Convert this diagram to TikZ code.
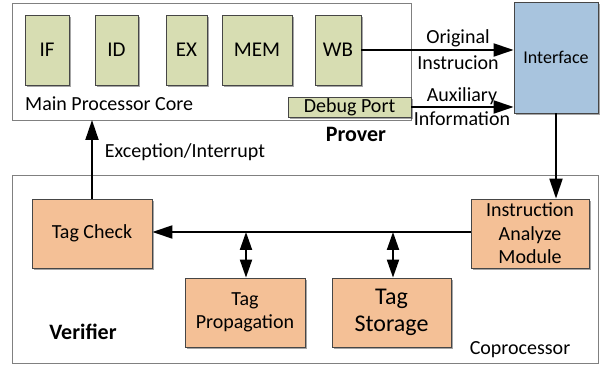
\documentclass[tikz,border=0pt]{standalone}
\usepackage{fontspec}
\setmainfont{Carlito}
\usetikzlibrary{arrows.meta,shadows}

\definecolor{stagegreen}{RGB}{215,221,178}
\definecolor{unitorange}{RGB}{244,192,150}
\definecolor{ifaceblue}{RGB}{168,196,222}
\definecolor{frame}{RGB}{128,128,128}
\definecolor{edge}{RGB}{70,70,70}

\newcommand{\fs}[2]{\fontsize{#1}{#2}\selectfont}

\tikzset{
  container/.style={draw=frame, line width=0.9pt, fill=white},
  blockbase/.style={draw=edge, line width=0.8pt, inner sep=0pt, align=center,
    drop shadow={shadow xshift=1.6pt, shadow yshift=-1.6pt, fill=black, opacity=0.35}},
  stagebox/.style={blockbase, fill=stagegreen, minimum height=70pt, font=\fs{21}{24}},
  unitbox/.style={blockbase, fill=unitorange, minimum width=120pt, minimum height=69pt, font=\fs{20}{23.5}},
  ifacebox/.style={blockbase, fill=ifaceblue, minimum width=84pt, minimum height=111pt, font=\fs{18}{21}},
  plain/.style={inner sep=0pt, font=\fs{20}{23}},
  title/.style={inner sep=0pt, font=\bfseries\fs{22}{25}},
  flow/.style={line width=2pt, -{Triangle[length=20pt,width=13pt]}},
  twoway/.style={line width=2pt, {Triangle[length=18pt,width=12pt]}-{Triangle[length=18pt,width=12pt]}},
}

\begin{document}
\begin{tikzpicture}[x=1pt, y=-1pt]
\useasboundingbox (0,0) rectangle (600,366);

% --- Prover: main processor core ---
\draw[container] (12,3) rectangle (411,120);
\coordinate (coreS) at (92,120);

\node[stagebox, minimum width=44pt] (if)  at (47,50)    {IF};
\node[stagebox, minimum width=43pt] (id)  at (116.5,50) {ID};
\node[stagebox, minimum width=41pt] (ex)  at (186.5,50) {EX};
\node[stagebox, minimum width=70pt] (mem) at (257,50)   {MEM};
\node[stagebox, minimum width=46pt] (wb)  at (338,50)   {WB};

\node[plain, anchor=west] (corelbl) at (25,104) {Main Processor Core};
\node[stagebox, minimum width=123pt, minimum height=20pt, font=\fs{20}{23}] (debug) at (349.5,107) {Debug Port};
\node[title] (prover) at (356,134) {Prover};

% --- Interface ---
\node[ifacebox] (iface) at (556,57.5) {Interface};

% --- Verifier: coprocessor ---
\draw[container] (12,175) rectangle (598,363);

\node[unitbox] (check) at (92,233.5)  {Tag Check};
\node[unitbox, minimum width=118pt] (iam) at (530,233.5) {Instruction\\Analyze\\Module};
\node[unitbox] (prop)  at (245,312.5) {Tag\\Propagation};
\node[unitbox, minimum width=119pt, font=\fs{24}{27}] (store) at (391.5,312.5) {Tag\\Storage};

\node[title] (verifier) at (83,332) {Verifier};
\node[plain] (coplbl) at (520,350) {Coprocessor};

% --- connectors ---
\draw[flow] (wb.east) -- (wb.east -| iface.west);
\node[plain] (origlbl) at (458,38) {Original};
\node[plain] (instlbl) at (458,63) {Instrucion};

\draw[flow] (debug.east) -- (debug.east -| iface.west);
\node[plain] (auxlbl)  at (462,96) {Auxiliary};
\node[plain] (infolbl) at (462,119) {Information};

\draw[flow] (iface.south) -- (iface.south |- iam.north);

\coordinate (bus) at (530,232);
\draw[flow] (iam.west |- bus) -- (check.east |- bus);

\coordinate (propTap) at (246,232);
\coordinate (storeTap) at (393,232);
\draw[twoway] (propTap) -- (propTap |- prop.north);
\draw[twoway] (storeTap) -- (storeTap |- store.north);

\draw[flow] (check.north) -- (check.north |- coreS);
\node[plain] (exclbl) at (185,152) {Exception/Interrupt};
\end{tikzpicture}
\end{document}
